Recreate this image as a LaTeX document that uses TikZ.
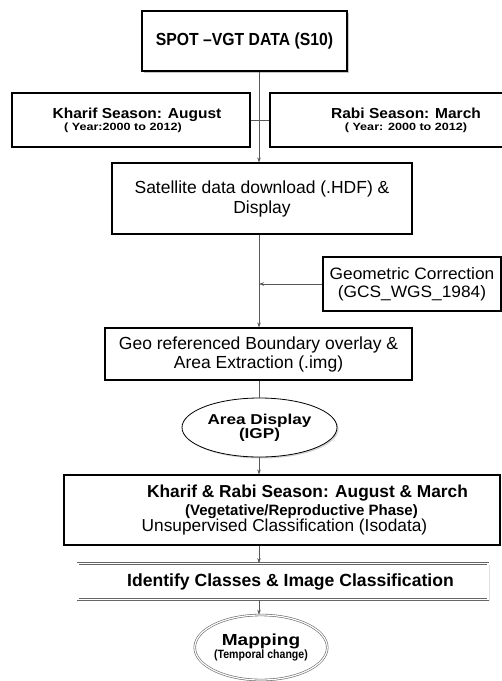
\documentclass[tikz,border=0pt]{standalone}
\usepackage{fontspec}
\setmainfont{Liberation Sans}
\usetikzlibrary{arrows.meta,shapes.geometric,shadows}

\newcommand{\stretchfont}[1]{\addfontfeatures{FakeStretch=#1}}

\tikzset{
	stepbox/.style={draw, line width=1.1pt, align=center, inner sep=0pt},
	flow/.style={draw=black!65, line width=0.5pt},
	flowarr/.style={flow, -{Stealth[length=5pt,width=3.5pt]}},
}

\begin{document}
\begin{tikzpicture}[x=1pt,y=-1pt]
		\useasboundingbox (0,0) rectangle (502,681);
		\coordinate (axis) at (259,0);

		% source and seasons
		\node[stepbox, line width=2pt, minimum width=205pt, minimum height=60pt,
			font=\fontsize{17.5}{19}\selectfont\bfseries\stretchfont{0.9},
			drop shadow={shadow xshift=2pt, shadow yshift=-2pt, fill=black!45}, fill=white]
			at (244.5,40.5) (spot) {SPOT --VGT DATA (S10)};
		\node[stepbox, minimum width=238pt, minimum height=54pt, font=\bfseries] at (131,120) (kharif)
			{\fontsize{14.5}{11.5}\selectfont\stretchfont{1.07}\hspace*{12pt}Kharif Season: August\\
			 \fontsize{10.5}{11.5}\selectfont\stretchfont{1.2}\hspace*{-16pt}( Year:2000 to 2012)};
		\node[stepbox, minimum width=272pt, minimum height=54pt, font=\bfseries] at (406,120) (rabi)
			{\fontsize{14.5}{11.5}\selectfont\stretchfont{1.07}Rabi Season: March\\
			 \fontsize{10.5}{11.5}\selectfont\stretchfont{1.2}( Year: 2000 to 2012)};

		% processing
		\node[stepbox, minimum width=300pt, minimum height=71pt,
			font=\fontsize{17.5}{20}\selectfont] at (262,198.5) (sat)
			{Satellite data download (.HDF) \&\\Display};
		\node[stepbox, minimum width=178pt, minimum height=54pt,
			font=\fontsize{16.5}{18}\selectfont\stretchfont{1.05}] at (412,284) (geom)
			{Geometric Correction\\(GCS\_WGS\_1984)};
		\coordinate (geomin) at (geom.west -| axis);
		\node[stepbox, minimum width=307pt, minimum height=52pt,
			font=\fontsize{17.5}{19}\selectfont] at (258.5,354) (geo)
			{Geo referenced Boundary overlay \&\\Area Extraction (.img)};
		\node[draw, ellipse, line width=0.8pt, fill=white, minimum width=155pt, minimum height=59pt,
			inner sep=0pt, align=center, font=\fontsize{14.3}{14}\selectfont\bfseries\stretchfont{1.2},
			drop shadow={shadow xshift=1.5pt, shadow yshift=-1.5pt, fill=black!35}]
			at (259.5,427.5) (area)
			{Area Display\\(IGP)};

		% classification
		\node[stepbox, minimum width=436pt, minimum height=70pt] at (282,510) (class)
			{\fontsize{17.3}{19}\selectfont\bfseries\hspace*{51pt}Kharif \& Rabi Season: August \& March\\[2pt]
			 \fontsize{15}{19}\selectfont\bfseries\hspace*{39pt}(Vegetative/Reproductive Phase)\\[-1pt]
			 \fontsize{17.3}{19}\selectfont\hspace*{5pt}Unsupervised Classification (Isodata)};
		\node[draw=black!60, double, double distance=1.2pt, line width=0.6pt, minimum width=410pt,
			minimum height=36pt, inner sep=0pt, fill=white, font=\fontsize{17.6}{19}\selectfont\bfseries,
			drop shadow={shadow xshift=1.5pt, shadow yshift=-1.5pt, fill=black!25}]
			at (283,581.5) (ident)
			{\hspace*{15pt}Identify Classes \& Image Classification};
		\node[draw=black!60, double, double distance=1.2pt, line width=0.6pt, ellipse,
			minimum width=132pt, minimum height=65pt, inner sep=0pt, align=center, font=\bfseries]
			at (261,647.5) (map)
			{\fontsize{16}{15}\selectfont\stretchfont{1.19}Mapping\\
			 \fontsize{12}{15}\selectfont\stretchfont{0.88}(Temporal change)};

		% connectors
		\draw[flow] (kharif.east) -- (rabi.west);
		\draw[flowarr] (spot.south -| axis) -- (sat.north -| axis);
		\draw[flowarr] (sat.south -| axis) -- (geo.north -| axis);
		\draw[flowarr] (geom.west) -- (geomin);
		\draw[flow] (geo.south -| axis) -- (area.north -| axis);
		\draw[flowarr] (area.south -| axis) -- (class.north -| axis);
		\draw[flowarr] (class.south -| axis) -- (ident.north -| axis);
		\draw[flowarr] (ident.south -| axis) -- (map.north -| axis);
	\end{tikzpicture}
\end{document}
